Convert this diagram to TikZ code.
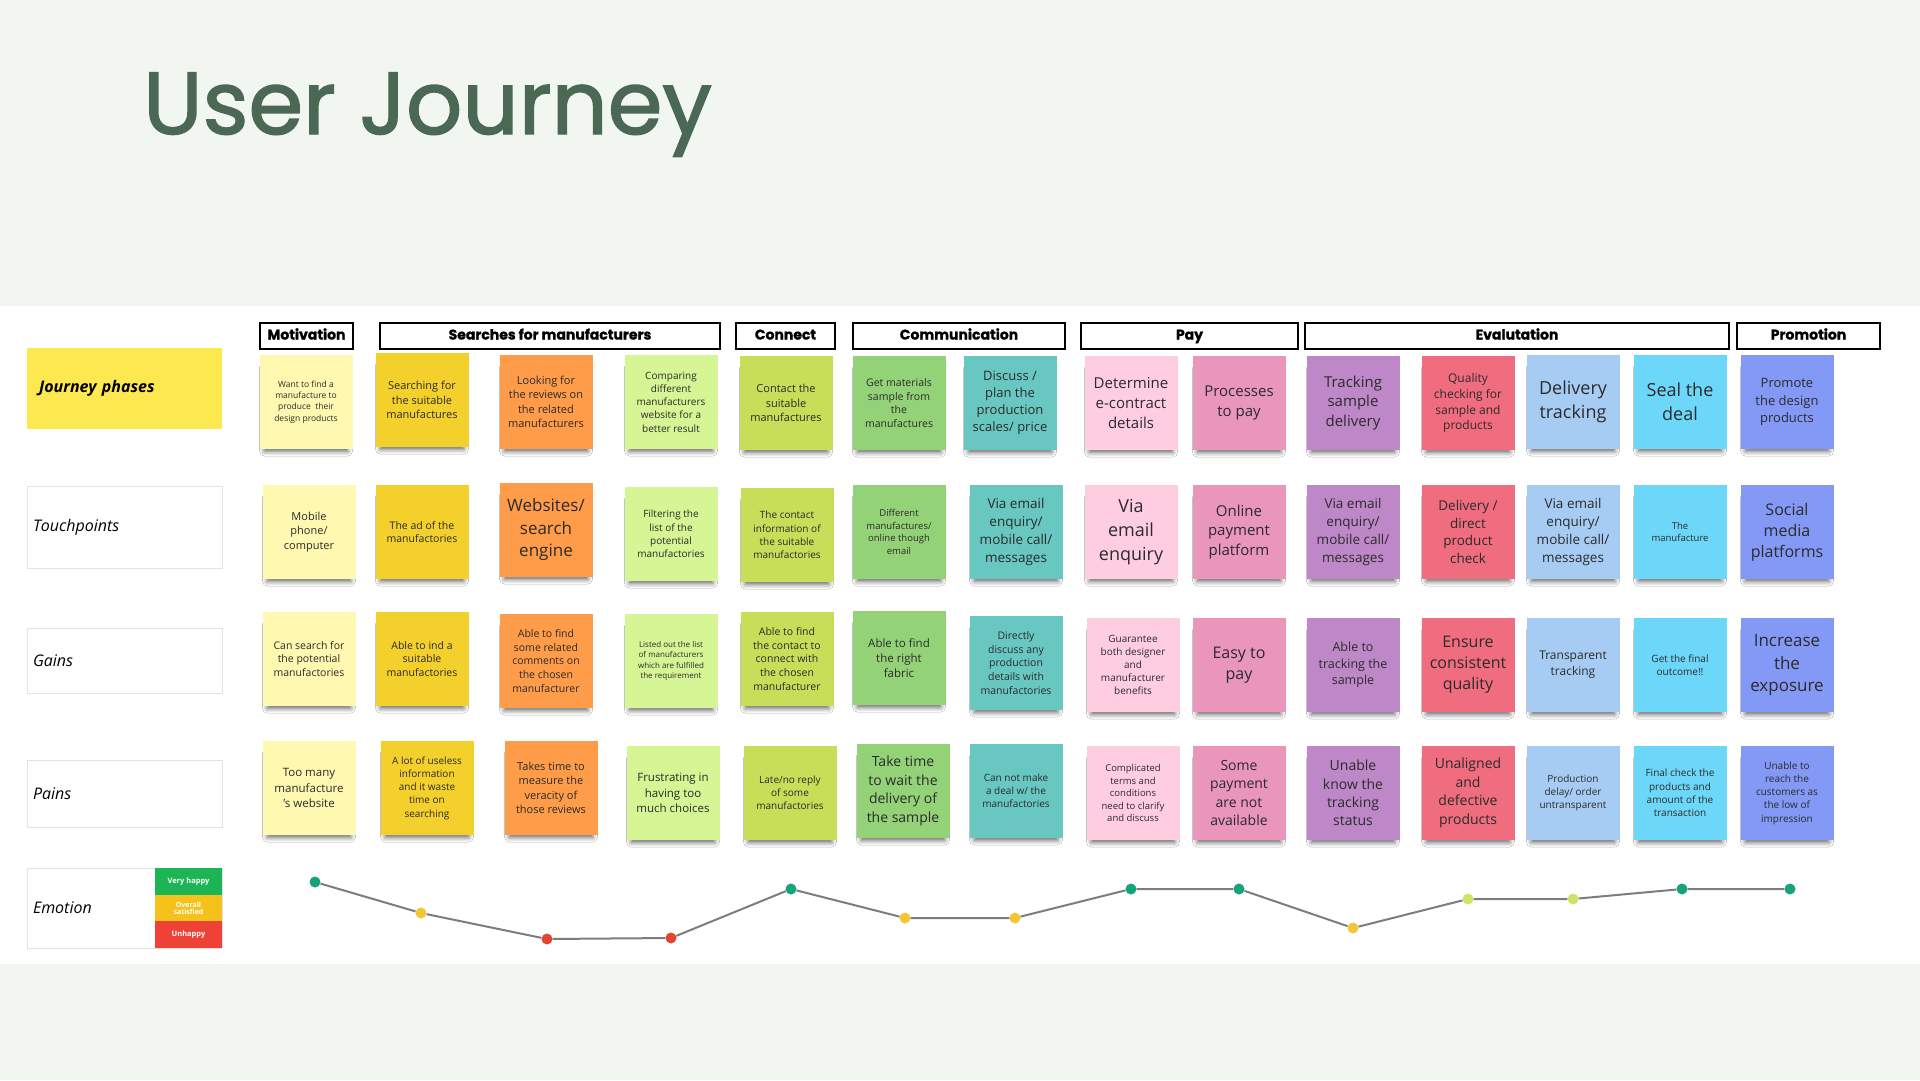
\documentclass[tikz,border=0pt]{standalone}
\usepackage{fontspec}
\setmainfont{Open Sans}
\newfontfamily\titlefont{Poppins}[FakeBold=1.6]
\newfontfamily\headfont{Poppins}[FakeBold=1.2]
\usetikzlibrary{shadows.blur}

\definecolor{bgGreen}{HTML}{F1F6F0}
\definecolor{titleGreen}{HTML}{4A6853}
\definecolor{ink}{HTML}{2B2B2B}
\definecolor{labelGray}{HTML}{E2E2E2}
\definecolor{jpYellow}{HTML}{FDE84F}
% sticky colours, one per column
\definecolor{stA}{HTML}{FFF8B0}
\definecolor{stB}{HTML}{F4D02C}
\definecolor{stC}{HTML}{FF9C4A}
\definecolor{stD}{HTML}{D6F594}
\definecolor{stE}{HTML}{C8DE58}
\definecolor{stF}{HTML}{94D277}
\definecolor{stG}{HTML}{68C7C1}
\definecolor{stH}{HTML}{FFCDE0}
\definecolor{stI}{HTML}{EA95BC}
\definecolor{stJ}{HTML}{BE88C8}
\definecolor{stK}{HTML}{F06D80}
\definecolor{stL}{HTML}{A7CCF4}
\definecolor{stM}{HTML}{6DD7F9}
\definecolor{stN}{HTML}{8498F6}
% emotion colours
\definecolor{emGood}{HTML}{13A47B}
\definecolor{emMid}{HTML}{F3C63A}
\definecolor{emBad}{HTML}{E2452E}
\definecolor{emOk}{HTML}{CFE26A}
\definecolor{emLine}{HTML}{7D7D7D}
\definecolor{lgGood}{HTML}{1DB455}
\definecolor{lgMid}{HTML}{F5C21B}
\definecolor{lgBad}{HTML}{EE4236}

\newcommand{\fs}[1]{\fontsize{#1}{1.32\dimexpr#1pt\relax}\selectfont}

\begin{document}
\begin{tikzpicture}[x=1pt, y=-1pt,
    note/.style={rectangle, minimum width=93pt, minimum height=94pt, inner sep=2pt, align=center, text=ink,
        blur shadow={shadow xshift=0pt, shadow yshift=-8pt, shadow scale=0.9, shadow opacity=60, shadow blur steps=6, shadow blur radius=5pt}},
    phase/.style={draw=black, line width=2pt, fill=white, minimum height=26pt, inner sep=0pt, text height=10pt, text depth=3pt, font=\headfont\bfseries\fs{14}},
    rowlabel/.style={draw=labelGray, line width=1pt, fill=white, minimum width=195pt, text width=183pt, align=left, inner sep=6pt, font=\itshape\fs{16}},
    legend/.style={minimum width=67pt, minimum height=26.7pt, inner sep=0pt, align=center, text=white, font=\bfseries\fs{7.5}},
    dot/.style={circle, inner sep=0pt, minimum size=11pt}]
    \useasboundingbox (0,0) rectangle (1920,1080);
    \fill[bgGreen] (0,0) rectangle (1920,1080);
    \fill[white] (0,306) rectangle (1920,964);

    \node[anchor=base west, inner sep=0pt, text=titleGreen, font=\titlefont\fontsize{88}{100}\selectfont] (title) at (143,134) {User Journey};

    % phase headers
    \node[phase, minimum width=93pt] (hMot) at (306.5,336) {Motivation};
    \node[phase, minimum width=340pt] (hSearch) at (550,336) {Searches for manufacturers};
    \node[phase, minimum width=99pt] (hConn) at (785.5,336) {Connect};
    \node[phase, minimum width=212pt] (hComm) at (959,336) {Communication};
    \node[phase, minimum width=217pt] (hPay) at (1189.5,336) {Pay};
    \node[phase, minimum width=424pt] (hEval) at (1517,336) {Evalutation};
    \node[phase, minimum width=143pt] (hPromo) at (1808.5,336) {Promotion};

    % row labels
    \node[rowlabel, draw=none, fill=jpYellow, minimum height=81pt, font=\bfseries\itshape\fs{16}, inner sep=12pt, text width=171pt] (lJourney) at (124.5,388.5) {Journey phases};
    \node[rowlabel, minimum height=82pt] (lTouch) at (124.5,527) {Touchpoints};
    \node[rowlabel, minimum height=65pt] (lGains) at (124.5,660.5) {Gains};
    \node[rowlabel, minimum height=67pt] (lPains) at (124.5,793.5) {Pains};
    \node[rowlabel, minimum height=80pt] (lEmo) at (124.5,908) {Emotion};
    \node[legend, fill=lgGood] (lgVery) at (188.5,881.3) {Very happy};
    \node[legend, fill=lgMid, font=\bfseries\fs{7}] (lgOver) at (188.5,908) {Overall\\[-2pt]satisfied};
    \node[legend, fill=lgBad] (lgUn) at (188.5,934.7) {Unhappy};

    % journey phases
    \node[note, fill=stA, font=\fs{8.5}] (p1) at (306,402) {Want to find a\\manufacture to\\produce\ \ their\\design products};
    \node[note, fill=stB, font=\fs{11}] (p2) at (422,400) {Searching for\\the suitable\\manufactures};
    \node[note, fill=stC, font=\fs{11}] (p3) at (546,402) {Looking for\\the reviews on\\the related\\manufacturers};
    \node[note, fill=stD, font=\fs{10}] (p4) at (671,402) {Comparing\\different\\manufacturers\\website for a\\better result};
    \node[note, fill=stE, font=\fs{11}] (p5) at (786,403) {Contact the\\suitable\\manufactures};
    \node[note, fill=stF, font=\fs{10.5}] (p6) at (899,403) {Get materials\\sample from\\the\\manufactures};
    \node[note, fill=stG, font=\fs{13}] (p7) at (1010,403) {Discuss /\\plan the\\production\\scales/ price};
    \node[note, fill=stH, font=\fs{15}] (p8) at (1131,403) {Determine\\e-contract\\details};
    \node[note, fill=stI, font=\fs{15}] (p9) at (1239,403) {Processes\\to pay};
    \node[note, fill=stJ, font=\fs{15}] (p10) at (1353,403) {Tracking\\sample\\delivery};
    \node[note, fill=stK, font=\fs{12}] (p11) at (1468,403) {Quality\\checking for\\sample and\\products};
    \node[note, fill=stL, font=\fs{18}] (p12) at (1573,402) {Delivery\\tracking};
    \node[note, fill=stM, font=\fs{18}] (p13) at (1680,402) {Seal the\\deal};
    \node[note, fill=stN, font=\fs{13}] (p14) at (1787,402) {Promote\\the design\\products};

    % touchpoints
    \node[note, fill=stA, font=\fs{11}] (t1) at (309,532) {Mobile\\phone/\\computer};
    \node[note, fill=stB, font=\fs{10.5}] (t2) at (422,532) {The ad of the\\manufactories};
    \node[note, fill=stC, font=\fs{17}] (t3) at (546,530) {Websites/\\search\\engine};
    \node[note, fill=stD, font=\fs{10}] (t4) at (671,534) {Filtering the\\list of the\\potential\\manufactories};
    \node[note, fill=stE, font=\fs{10}] (t5) at (787,535) {The contact\\information of\\the suitable\\manufactories};
    \node[note, fill=stF, font=\fs{9.5}] (t6) at (899,532) {Different\\manufactures/\\online though\\email};
    \node[note, fill=stG, font=\fs{13.5}] (t7) at (1016,532) {Via email\\enquiry/\\mobile call/\\messages};
    \node[note, fill=stH, font=\fs{18}] (t8) at (1131,532) {Via\\email\\enquiry};
    \node[note, fill=stI, font=\fs{15}] (t9) at (1239,532) {Online\\payment\\platform};
    \node[note, fill=stJ, font=\fs{13.5}] (t10) at (1353,532) {Via email\\enquiry/\\mobile call/\\messages};
    \node[note, fill=stK, font=\fs{13.5}] (t11) at (1468,532) {Delivery /\\direct\\product\\check};
    \node[note, fill=stL, font=\fs{13.5}] (t12) at (1573,532) {Via email\\enquiry/\\mobile call/\\messages};
    \node[note, fill=stM, font=\fs{9.5}] (t13) at (1680,532) {The\\manufacture};
    \node[note, fill=stN, font=\fs{16}] (t14) at (1787,532) {Social\\media\\platforms};

    % gains
    \node[note, fill=stA, font=\fs{10.5}] (g1) at (309,659) {Can search for\\the potential\\manufactories};
    \node[note, fill=stB, font=\fs{10.5}] (g2) at (422,659) {Able to ind a\\suitable\\manufactories};
    \node[note, fill=stC, font=\fs{10.5}] (g3) at (546,661) {Able to find\\some related\\comments on\\the chosen\\manufacturer};
    \node[note, fill=stD, font=\fs{8}] (g4) at (671,661) {Listed out the list\\of manufacturers\\which are fulfilled\\the requirement};
    \node[note, fill=stE, font=\fs{10.5}] (g5) at (787,659) {Able to find\\the contact to\\connect with\\the chosen\\manufacturer};
    \node[note, fill=stF, font=\fs{11.5}] (g6) at (899,658) {Able to find\\the right\\fabric};
    \node[note, fill=stG, font=\fs{10.5}] (g7) at (1016,663) {Directly\\discuss any\\production\\details with\\manufactories};
    \node[note, fill=stH, font=\fs{10}] (g8) at (1133,665) {Guarantee\\both designer\\and\\manufacturer\\benefits};
    \node[note, fill=stI, font=\fs{16}] (g9) at (1239,665) {Easy to\\pay};
    \node[note, fill=stJ, font=\fs{12.5}] (g10) at (1353,665) {Able to\\tracking the\\sample};
    \node[note, fill=stK, font=\fs{16}] (g11) at (1468,665) {Ensure\\consistent\\quality};
    \node[note, fill=stL, font=\fs{12}] (g12) at (1573,665) {Transparent\\tracking};
    \node[note, fill=stM, font=\fs{10}] (g13) at (1680,665) {Get the final\\outcome!!};
    \node[note, fill=stN, font=\fs{17}] (g14) at (1787,665) {Increase\\the\\exposure};

    % pains
    \node[note, fill=stA, font=\fs{11.5}] (n1) at (309,788) {Too many\\manufacture\\'s website};
    \node[note, fill=stB, font=\fs{10}] (n2) at (427,788) {A lot of useless\\information\\and it waste\\time on\\searching};
    \node[note, fill=stC, font=\fs{11}] (n3) at (551,788) {Takes time to\\measure the\\veracity of\\those reviews};
    \node[note, fill=stD, font=\fs{11.5}] (n4) at (673,793) {Frustrating in\\having too\\much choices};
    \node[note, fill=stE, font=\fs{10}] (n5) at (790,793) {Late/no reply\\of some\\manufactories};
    \node[note, fill=stF, font=\fs{14}] (n6) at (903,791) {Take time\\to wait the\\delivery of\\the sample};
    \node[note, fill=stG, font=\fs{10}] (n7) at (1016,791) {Can not make\\a deal w/ the\\manufactories};
    \node[note, fill=stH, font=\fs{9.5}] (n8) at (1133,793) {Complicated\\terms and\\conditions\\need to clarify\\and discuss};
    \node[note, fill=stI, font=\fs{14}] (n9) at (1239,793) {Some\\payment\\are not\\available};
    \node[note, fill=stJ, font=\fs{14}] (n10) at (1353,793) {Unable\\know the\\tracking\\status};
    \node[note, fill=stK, font=\fs{14}] (n11) at (1468,793) {Unaligned\\and\\defective\\products};
    \node[note, fill=stL, font=\fs{10}] (n12) at (1573,793) {Production\\delay/ order\\untransparent};
    \node[note, fill=stM, font=\fs{10}] (n13) at (1680,793) {Final check the\\products and\\amount of the\\transaction};
    \node[note, fill=stN, font=\fs{10}] (n14) at (1787,793) {Unable to\\reach the\\customers as\\the low of\\impression};

    % emotion curve
    \node[dot, fill=emGood] (e1) at (315,882) {};
    \node[dot, fill=emMid] (e2) at (421,913) {};
    \node[dot, fill=emBad] (e3) at (547,939) {};
    \node[dot, fill=emBad] (e4) at (671,938) {};
    \node[dot, fill=emGood] (e5) at (791,889) {};
    \node[dot, fill=emMid] (e6) at (905,918) {};
    \node[dot, fill=emMid] (e7) at (1015,918) {};
    \node[dot, fill=emGood] (e8) at (1131,889) {};
    \node[dot, fill=emGood] (e9) at (1239,889) {};
    \node[dot, fill=emMid] (e10) at (1353,928) {};
    \node[dot, fill=emOk] (e11) at (1468,899) {};
    \node[dot, fill=emOk] (e12) at (1573,899) {};
    \node[dot, fill=emGood] (e13) at (1682,889) {};
    \node[dot, fill=emGood] (e14) at (1790,889) {};
    \draw[emLine, line width=2pt] (e1) -- (e2) -- (e3) -- (e4) -- (e5) -- (e6) -- (e7) -- (e8) -- (e9) -- (e10) -- (e11) -- (e12) -- (e13) -- (e14);
\end{tikzpicture}
\end{document}
